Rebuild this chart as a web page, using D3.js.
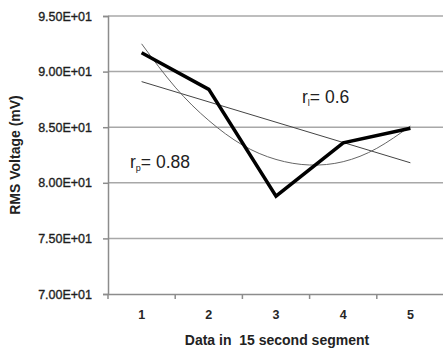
<!DOCTYPE html>
<html>
<head>
<meta charset="utf-8">
<script src="https://cdn.jsdelivr.net/npm/d3@7.9.0/dist/d3.min.js"></script>
<style>
  body { margin: 0; background: #fff; }
  svg { display: block; font-family: "Liberation Sans", Arial, sans-serif; }
</style>
</head>
<body>
<svg id="chart" width="443" height="350"></svg>
<script>
// values
const segments = [1, 2, 3, 4, 5];
const rmsVoltage = [91.7, 88.4, 78.8, 83.6, 84.9];
// linear trend end points (x = 1 and x = 5)
const linearX = [1, 5];
const linearTrend = [89.1, 81.8];
// polynomial trend, sampled along the curve
const polyX = [1, 1.5, 2, 2.5, 3, 3.5, 4, 4.5, 5];
const polyTrend = [92.5, 88.6, 85.6, 83.4, 82.1, 81.6, 81.9, 83.1, 85.1];
const yTicks = [70, 75, 80, 85, 90, 95];
const yTickLabels = ['7.00E+01', '7.50E+01', '8.00E+01', '8.50E+01', '9.00E+01', '9.50E+01'];

const svg = d3.select('#chart');
const plotLeft = 108, plotRight = 444, plotTop = 16, plotBottom = 294;

let x = d3.scaleBand().domain(segments).range([plotLeft, plotRight]);
let y = d3.scaleLinear().domain([70, 95]).range([plotBottom, plotTop]);
// continuous x for the trend lines (band centres)
let xc = d3.scaleLinear().domain([1, 5]).range([x(1) + x.bandwidth() / 2, x(5) + x.bandwidth() / 2]);

// gridlines
svg.append('g')
  .selectAll('line')
  .data(yTicks.slice(1))
  .join('line')
  .attr('x1', plotLeft).attr('x2', plotRight)
  .attr('y1', d => y(d)).attr('y2', d => y(d))
  .attr('stroke', '#a8a8a8')
  .attr('stroke-width', 1.5);

// y axis
let yAxis = d3.axisLeft(y)
  .tickValues(yTicks)
  .tickFormat((d, i) => yTickLabels[i])
  .tickSize(5)
  .tickPadding(11);
let gy = svg.append('g').attr('transform', `translate(${plotLeft},0)`).call(yAxis);
gy.select('.domain').attr('stroke', '#8c8c8c').attr('stroke-width', 1.5);
gy.selectAll('.tick line').attr('stroke', '#8c8c8c').attr('stroke-width', 1.5);
gy.selectAll('text').attr('font-size', 12.5).attr('fill', '#1e1e1e')
  .attr('stroke', '#1e1e1e').attr('stroke-width', 0.35);

// x axis
let xAxis = d3.axisBottom(x).tickSize(0).tickPadding(16);
let gx = svg.append('g').attr('transform', `translate(0,${plotBottom})`).call(xAxis);
gx.select('.domain').attr('stroke', '#8c8c8c').attr('stroke-width', 1.5);
gx.selectAll('text').attr('font-size', 12.5).attr('font-weight', 'bold').attr('fill', '#262626');
// category boundary ticks
let bounds = segments.map(d => x(d)).concat([plotRight]);
gx.selectAll('.bound')
  .data(bounds)
  .join('line')
  .attr('class', 'bound')
  .attr('x1', d => d).attr('x2', d => d)
  .attr('y1', 0).attr('y2', 5)
  .attr('stroke', '#8c8c8c').attr('stroke-width', 1.5);

// trend lines
let trendLine = d3.line().x(d => xc(d[0])).y(d => y(d[1]));
svg.append('path')
  .attr('d', trendLine(d3.zip(linearX, linearTrend)))
  .attr('fill', 'none').attr('stroke', '#444').attr('stroke-width', 1);
svg.append('path')
  .attr('d', trendLine.curve(d3.curveNatural)(d3.zip(polyX, polyTrend)))
  .attr('fill', 'none').attr('stroke', '#666').attr('stroke-width', 1);

// data series
let dataLine = d3.line().x(d => x(d[0]) + x.bandwidth() / 2).y(d => y(d[1]));
svg.append('path')
  .attr('d', dataLine(d3.zip(segments, rmsVoltage)))
  .attr('fill', 'none').attr('stroke', '#000').attr('stroke-width', 3.5)
  .attr('stroke-linejoin', 'miter');

// annotations
let lab1 = svg.append('text').attr('x', 302).attr('y', 103).attr('font-size', 17.5).attr('fill', '#222');
lab1.append('tspan').text('r');
lab1.append('tspan').attr('font-size', 9).attr('dy', 3).text('l');
lab1.append('tspan').attr('dy', -3).text('= 0.6');

let lab2 = svg.append('text').attr('x', 130).attr('y', 168).attr('font-size', 17.5).attr('fill', '#222');
lab2.append('tspan').text('r');
lab2.append('tspan').attr('font-size', 9).attr('dy', 3).text('p');
lab2.append('tspan').attr('dy', -3).text('= 0.88');

// axis titles
svg.append('text')
  .attr('transform', `translate(20,${(plotTop + plotBottom) / 2}) rotate(-90)`)
  .attr('text-anchor', 'middle')
  .attr('font-size', 14).attr('font-weight', 'bold').attr('fill', '#222')
  .text('RMS Voltage (mV)');

svg.append('text')
  .attr('x', 277).attr('y', 345)
  .attr('text-anchor', 'middle')
  .attr('font-size', 14).attr('font-weight', 'bold').attr('fill', '#222')
  .text('Data in\u00a0 15 second segment');
</script>
</body>
</html>
